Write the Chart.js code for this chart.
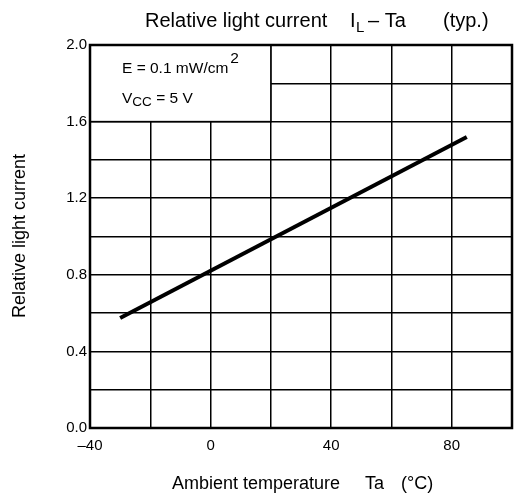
<!DOCTYPE html>
<html>
<head>
<meta charset="utf-8">
<script src="https://cdn.jsdelivr.net/npm/chart.js@4"></script>
<style>
  html, body { margin: 0; padding: 0; background: #fff; }
  #wrap { width: 521px; height: 499px; position: relative; }
</style>
</head>
<body>
<div id="wrap"><canvas id="myChart"></canvas></div>
<script>
// ambient temperature (°C) and relative light current
const tempC = [-30, 85];
const relCurrent = [0.574, 1.52];

const xTickLabels = [-40, 0, 40, 80];
const yTickLabels = [0.0, 0.4, 0.8, 1.2, 1.6, 2.0];

const FONT = "'Liberation Sans', Arial, sans-serif";

// frame, condition box and all free text
const annotations = {
  id: "annotations",
  beforeDatasetsDraw(chart) {
    const { ctx, scales: { x, y } } = chart;
    const l = x.getPixelForValue(-40), r = x.getPixelForValue(20);
    const t = y.getPixelForValue(2.0), b = y.getPixelForValue(1.6);
    ctx.save();
    ctx.fillStyle = "#fff";
    ctx.fillRect(l, t, r - l, b - t);
    ctx.strokeStyle = "#000";
    ctx.lineWidth = 1.5;
    ctx.strokeRect(l, t, r - l, b - t);

    ctx.fillStyle = "#000";
    ctx.textBaseline = "alphabetic";
    ctx.textAlign = "left";
    ctx.font = "15.5px " + FONT;
    let tx = l + 32;
    ctx.fillText("E = 0.1 mW/cm", tx, t + 28);
    let w = ctx.measureText("E = 0.1 mW/cm").width;
    ctx.fillText("2", tx + w + 2, t + 18);

    ctx.fillText("V", tx, t + 58);
    w = ctx.measureText("V").width;
    ctx.font = "13.5px " + FONT;
    ctx.fillText("CC", tx + w, t + 61);
    w += ctx.measureText("CC").width;
    ctx.font = "15.5px " + FONT;
    ctx.fillText(" = 5 V", tx + w, t + 58);
    ctx.restore();
  },
  afterDraw(chart) {
    const { ctx, chartArea: a } = chart;
    ctx.save();
    ctx.strokeStyle = "#000";
    ctx.lineWidth = 2.5;
    ctx.strokeRect(a.left, a.top, a.right - a.left, a.bottom - a.top);

    ctx.fillStyle = "#000";
    ctx.textAlign = "left";
    ctx.textBaseline = "alphabetic";

    // title
    ctx.font = "20px " + FONT;
    ctx.fillText("Relative light current", 145, 27);
    ctx.fillText("I", 350, 27);
    ctx.font = "15px " + FONT;
    ctx.fillText("L", 356, 32);
    ctx.font = "20px " + FONT;
    ctx.fillText("\u2013 Ta", 368, 27);
    ctx.fillText("(typ.)", 443, 27);

    // x axis title
    ctx.font = "18px " + FONT;
    ctx.fillText("Ambient temperature", 172, 489);
    ctx.fillText("Ta", 365, 489);
    ctx.fillText("(\u00B0C)", 401, 489);

    // y axis title
    ctx.translate(25, 236);
    ctx.rotate(-Math.PI / 2);
    ctx.textAlign = "center";
    ctx.fillText("Relative light current", 0, 0);
    ctx.restore();
  }
};

new Chart(document.getElementById("myChart"), {
  type: "scatter",
  data: {
    datasets: [
      {
        data: tempC.map((t, i) => ({ x: t, y: relCurrent[i] })),
        showLine: true,
        borderColor: "#000",
        borderWidth: 4,
        pointRadius: 0,
        fill: false,
      },
    ],
  },
  options: {
    responsive: true,
    maintainAspectRatio: false,
    animation: false,
    layout: { padding: { top: 45, right: 4, left: 0, bottom: 0 } },
    plugins: {
      legend: { display: false },
      tooltip: { enabled: false },
    },
    scales: {
      x: {
        type: "linear",
        min: -40,
        max: 100,
        afterFit: (s) => { s.height = 71; },
        ticks: {
          stepSize: 20,
          color: "#000",
          padding: 9,
          maxRotation: 0,
          font: { size: 15, family: FONT },
          callback: (v) => xTickLabels.includes(v) ? (v < 0 ? "\u2013" + Math.abs(v) : String(v)) : "",
        },
        grid: { color: "#000", lineWidth: 1.5, drawTicks: false },
        border: { display: false },
      },
      y: {
        min: 0,
        max: 2.0,
        afterFit: (s) => { s.width = 90; },
        ticks: {
          stepSize: 0.2,
          color: "#000",
          padding: 3,
          font: { size: 15, family: FONT },
          callback: (v) => yTickLabels.some((t) => Math.abs(t - v) < 1e-6) ? v.toFixed(1) : "",
        },
        grid: { color: "#000", lineWidth: 1.5, drawTicks: false },
        border: { display: false },
      },
    },
  },
  plugins: [annotations],
});
</script>
</body>
</html>
